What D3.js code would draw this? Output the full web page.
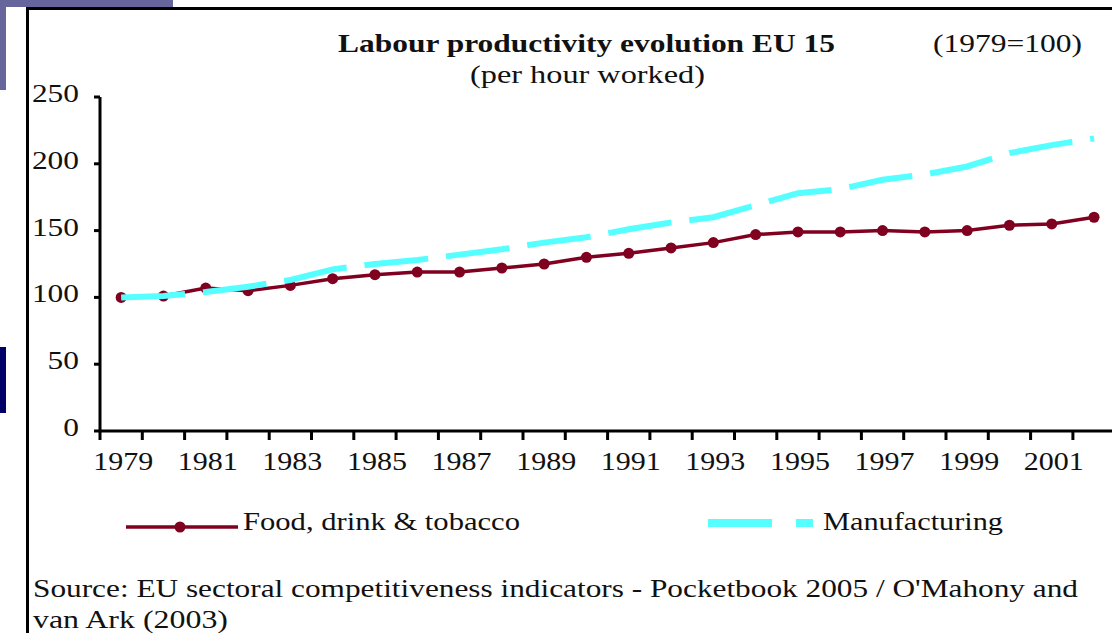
<!DOCTYPE html>
<html>
<head>
<meta charset="utf-8">
<script src="https://cdn.jsdelivr.net/npm/d3@7"></script>
<style>
  html, body { margin: 0; padding: 0; background: #fff; }
  svg { display: block; }
  text { font-family: "Liberation Serif", "Times New Roman", serif; fill: #111; }
</style>
</head>
<body>
<div class="chart"></div>
<script>
(function () {
  'use strict';

  var years = d3.range(1979, 2003);
  var food = [100, 101, 107, 105, 109, 114, 117, 119, 119, 122, 125, 130,
              133, 137, 141, 147, 149, 149, 150, 149, 150, 154, 155, 160];
  var manufacturing = [100, 101, 104, 108, 113, 121, 125, 128, 132, 136, 141, 145,
                       151, 156, 160, 169, 178, 181, 188, 192, 198, 208, 214, 219];
  var yTicks = [0, 50, 100, 150, 200, 250];
  var xLabels = [1979, 1981, 1983, 1985, 1987, 1989, 1991, 1993, 1995, 1997, 1999, 2001];

  var W = 1112, H = 633;
  var left = 100, top = 97, bottom = 431;
  var band = 42.3;

  var x = d3.scaleBand().domain(years).range([left, left + band * years.length]);
  var y = d3.scaleLinear().domain([0, 250]).range([bottom, top]);

  var svg = d3.select('.chart')
      .append('svg')
      .attr('width', W)
      .attr('height', H);

  // slide decoration
  svg.append('rect').attr('x', 0).attr('y', 0).attr('width', 173).attr('height', 7).attr('fill', '#66669c');
  svg.append('rect').attr('x', 0).attr('y', 0).attr('width', 6).attr('height', 90).attr('fill', '#66669c');
  svg.append('rect').attr('x', 0).attr('y', 347).attr('width', 6).attr('height', 66).attr('fill', '#000066');
  svg.append('line').attr('x1', 27.5).attr('x2', 27.5).attr('y1', 8).attr('y2', H)
     .attr('stroke', '#000').attr('stroke-width', 3);
  svg.append('line').attr('x1', 26).attr('x2', W).attr('y1', 8.5).attr('y2', 8.5)
     .attr('stroke', '#000').attr('stroke-width', 3);

  // titles
  svg.append('text').attr('x', 338).attr('y', 52)
     .attr('font-size', 25).attr('font-weight', 'bold')
     .attr('textLength', 497).attr('lengthAdjust', 'spacingAndGlyphs')
     .text('Labour productivity evolution EU 15');
  svg.append('text').attr('x', 933).attr('y', 52)
     .attr('font-size', 25)
     .attr('textLength', 149).attr('lengthAdjust', 'spacingAndGlyphs')
     .text('(1979=100)');
  svg.append('text').attr('x', 470).attr('y', 83)
     .attr('font-size', 25)
     .attr('textLength', 235).attr('lengthAdjust', 'spacingAndGlyphs')
     .text('(per hour worked)');

  // y axis
  svg.append('line').attr('x1', left).attr('x2', left).attr('y1', top).attr('y2', bottom)
     .attr('stroke', '#000').attr('stroke-width', 3);
  svg.selectAll('.ytick').data(yTicks).enter().append('line')
     .attr('class', 'ytick')
     .attr('x1', left - 6).attr('x2', left)
     .attr('y1', function(d) { return y(d); })
     .attr('y2', function(d) { return y(d); })
     .attr('stroke', '#000').attr('stroke-width', 3);
  svg.selectAll('.ylab').data(yTicks).enter().append('text')
     .attr('class', 'ylab')
     .attr('x', 79)
     .attr('y', function(d) { return y(d) + 5; })
     .attr('text-anchor', 'end')
     .attr('font-size', 25)
     .attr('textLength', function(d) { return String(d).length * 15.7; })
     .attr('lengthAdjust', 'spacingAndGlyphs')
     .text(function(d) { return d; });

  // x axis
  svg.append('line').attr('x1', left).attr('x2', W).attr('y1', bottom).attr('y2', bottom)
     .attr('stroke', '#000').attr('stroke-width', 3);
  svg.selectAll('.xtick').data(years.concat([2003])).enter().append('line')
     .attr('class', 'xtick')
     .attr('x1', function(d) { return d === 2003 ? x(2002) + x.bandwidth() : x(d); })
     .attr('x2', function(d) { return d === 2003 ? x(2002) + x.bandwidth() : x(d); })
     .attr('y1', bottom).attr('y2', bottom + 9)
     .attr('stroke', '#000').attr('stroke-width', 3);
  svg.selectAll('.xlab').data(xLabels).enter().append('text')
     .attr('class', 'xlab')
     .attr('x', function(d) { return x(d) + x.bandwidth() / 2 + 2; })
     .attr('y', 470)
     .attr('text-anchor', 'middle')
     .attr('font-size', 25)
     .attr('textLength', 60).attr('lengthAdjust', 'spacingAndGlyphs')
     .text(function(d) { return d; });

  var line = d3.line()
      .x(function(d, i) { return x(years[i]) + x.bandwidth() / 2; })
      .y(function(d) { return y(d); });

  // food, drink & tobacco
  svg.append('path').datum(food)
     .attr('d', line)
     .attr('fill', 'none')
     .attr('stroke', '#800020')
     .attr('stroke-width', 3.5);
  svg.selectAll('.dot').data(food).enter().append('circle')
     .attr('class', 'dot')
     .attr('cx', function(d, i) { return x(years[i]) + x.bandwidth() / 2; })
     .attr('cy', function(d) { return y(d); })
     .attr('r', 5.5)
     .attr('fill', '#800020');

  // manufacturing
  svg.append('path').datum(manufacturing)
     .attr('d', line)
     .attr('fill', 'none')
     .attr('stroke', '#55ffff')
     .attr('stroke-width', 6)
     .attr('stroke-dasharray', '64,18');

  // legend
  svg.append('line').attr('x1', 126).attr('x2', 238).attr('y1', 527).attr('y2', 527)
     .attr('stroke', '#800020').attr('stroke-width', 3.5);
  svg.append('circle').attr('cx', 180).attr('cy', 527).attr('r', 5.5).attr('fill', '#800020');
  svg.append('text').attr('x', 243).attr('y', 530)
     .attr('font-size', 25)
     .attr('textLength', 277).attr('lengthAdjust', 'spacingAndGlyphs')
     .text('Food, drink & tobacco');

  svg.append('line').attr('x1', 708).attr('x2', 772).attr('y1', 523).attr('y2', 523)
     .attr('stroke', '#55ffff').attr('stroke-width', 8);
  svg.append('line').attr('x1', 796).attr('x2', 813).attr('y1', 523).attr('y2', 523)
     .attr('stroke', '#55ffff').attr('stroke-width', 8);
  svg.append('text').attr('x', 823).attr('y', 530)
     .attr('font-size', 25)
     .attr('textLength', 180).attr('lengthAdjust', 'spacingAndGlyphs')
     .text('Manufacturing');

  // source
  svg.append('text').attr('x', 33).attr('y', 597)
     .attr('font-size', 25)
     .attr('textLength', 1045).attr('lengthAdjust', 'spacingAndGlyphs')
     .text('Source: EU sectoral competitiveness indicators - Pocketbook 2005 /  O\'Mahony and');
  svg.append('text').attr('x', 33).attr('y', 628)
     .attr('font-size', 25)
     .attr('textLength', 195).attr('lengthAdjust', 'spacingAndGlyphs')
     .text('van Ark (2003)');
}());
</script>
</body>
</html>
